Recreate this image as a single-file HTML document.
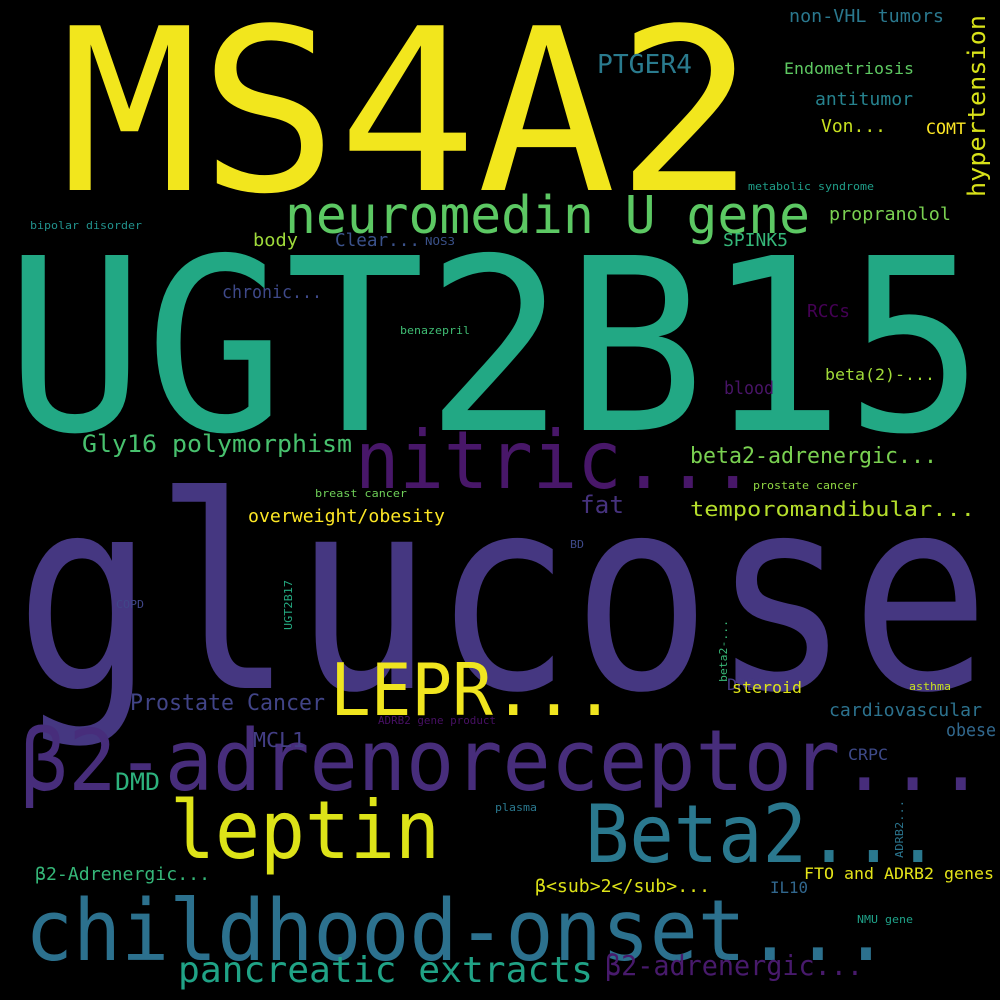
<!DOCTYPE html>
<html><head><meta charset="utf-8">
<style>
html,body{margin:0;padding:0;background:#000;}
svg{display:block;}
text{font-family:"DejaVu Sans Mono","Liberation Mono","Noto Sans CJK SC",monospace;}
</style></head>
<body>
<svg id="cloud" width="1000" height="1000" viewBox="0 0 1000 1000" xmlns="http://www.w3.org/2000/svg">
<rect width="1000" height="1000" fill="#000"/>
</svg>
<script>
const words = ["MS4A2","UGT2B15","glucose","neuromedin U gene","nitric...","LEPR...","β2-adrenoreceptor...","leptin","Beta2...","childhood-onset...","pancreatic extracts","β2-adrenergic...","PTGER4","hypertension","non-VHL tumors","Endometriosis","antitumor","Von...","COMT","metabolic syndrome","propranolol","bipolar disorder","body","Clear...","NOS3","SPINK5","chronic...","RCCs","benazepril","blood","beta(2)-...","Gly16 polymorphism","beta2-adrenergic...","breast cancer","prostate cancer","fat","temporomandibular...","overweight/obesity","BD","COPD","UGT2B17","DRD2","beta2-...","steroid","asthma","Prostate Cancer","cardiovascular","ADRB2 gene product","obese","DMD","CRPC","MCL1","plasma","ADRB2...","β2-Adrenergic...","β<sub>2</sub>...","FTO and ADRB2 genes","IL10","NMU gene"];
const wordSizes = [226,240,268,52,80,72,85,80,80,85,36,28,26,24,18,16,18,18,16,11,18,11,18,18,11,18,18,18,11,18,16,24,22,11,11,24,20,18,11,11,11,16,11,16,11,22,18,11,18,24,16,20,11,11,18,18,16,16,11];
const wordColors = ["#f2e61d","#22a884","#453781","#5cc863","#481769","#f0e51f","#472d7b","#dde318","#2a788e","#2c718e","#20a386","#481a6c","#2a7b8e","#d8e219","#2a788e","#5ec962","#26828e","#c7e020","#fde725","#1f9e89","#7ad151","#21918c","#9fda3a","#3b528b","#3b528b","#35b779","#3e4989","#440154","#3fbc73","#481467","#a0da39","#48c16e","#7ad151","#6ece58","#90d743","#46327e","#b5de2b","#fde725","#3e4989","#404688","#25ab82","#453882","#38b977","#dde318","#c8e020","#414487","#2c728e","#471063","#31688e","#2db27d","#3e4a89","#433e85","#2a788e","#2b758e","#35b779","#dde318","#e5e419","#31678e","#1fa188"];
const wordX = [60,5,15,285,355,330,20,170,585,25,178,605,597,985,789,784,815,821,926,748,829,30,253,335,425,723,222,807,400,724,825,82,690,315,753,580,690,248,570,116,292,727,727,732,909,130,829,378,946,115,848,253,495,903,35,535,804,770,857];
const wordY = [190,430,688,233,488,715,790,858,862,960,982,975,73,197,22,74,105,132,134,190,220,229,246,246,245,246,298,317,334,394,380,452,463,497,489,513,516,522,548,608,630,690,682,693,690,710,716,724,736,790,760,747,811,858,880,892,879,893,923];
const wordW = [695,980,975,525,400,285,965,270,355,865,415,258,95,182,155,130,98,65,40,126,122,112,45,85,30,65,100,43,70,50,110,270,247,92,105,44,285,197,14,28,50,40,62,70,42,195,153,118,50,45,40,52,42,58,175,175,190,38,56];
const wordRot = [0,0,0,0,0,0,0,0,0,0,0,0,0,1,0,0,0,0,0,0,0,0,0,0,0,0,0,0,0,0,0,0,0,0,0,0,0,0,0,0,1,0,1,0,0,0,0,0,0,0,0,0,0,1,0,0,0,0,0];

const svg = document.getElementById('cloud');
const NS = 'http://www.w3.org/2000/svg';
words.forEach((w, i) => {
  const t = document.createElementNS(NS, 'text');
  t.textContent = w;
  t.setAttribute('font-size', wordSizes[i]);
  t.setAttribute('fill', wordColors[i]);
  t.setAttribute('textLength', wordW[i]);
  t.setAttribute('lengthAdjust', 'spacingAndGlyphs');
  if (wordRot[i]) {
    t.setAttribute('x', 0);
    t.setAttribute('y', 0);
    t.setAttribute('transform', 'translate(' + wordX[i] + ',' + wordY[i] + ') rotate(-90)');
  } else {
    t.setAttribute('x', wordX[i]);
    t.setAttribute('y', wordY[i]);
  }
  
  
  svg.appendChild(t);
});
</script>
</body></html>
